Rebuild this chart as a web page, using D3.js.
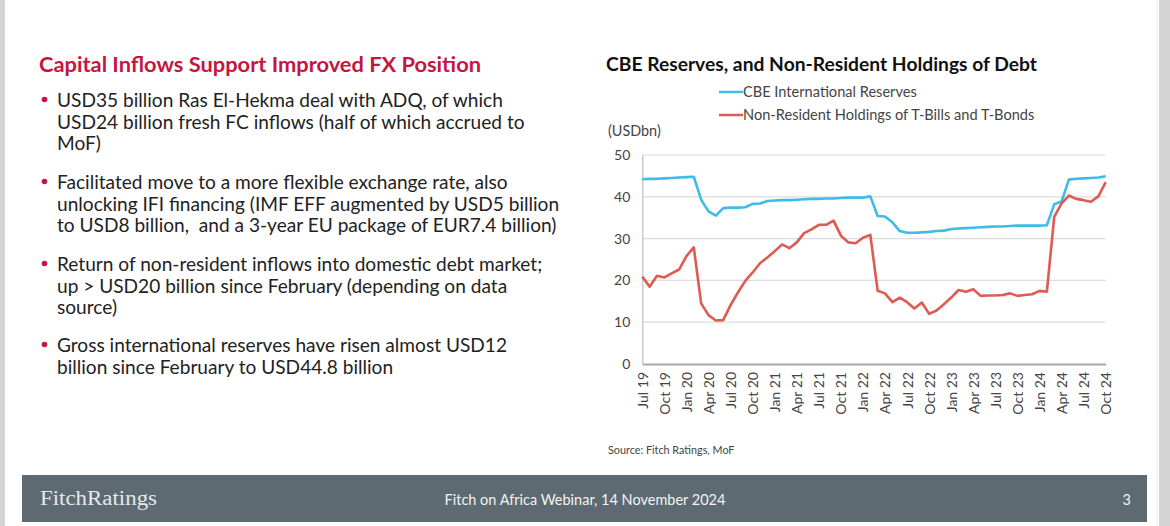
<!DOCTYPE html>
<html>
<head>
<meta charset="utf-8">
<script src="https://cdn.jsdelivr.net/npm/d3@7"></script>
<style>
  html, body { margin: 0; padding: 0; background: #d4d4d4; }
  svg { display: block; }
</style>
</head>
<body>
<svg id="c" width="1170" height="526"></svg>
<script>
// ---------- DATA ----------
// monthly observations, Jul 2019 .. Oct 2024
const startMonth = "2019-07";
const reserves = [
  44.2, 44.3, 44.3, 44.4, 44.5, 44.6, 44.7, 44.8, 39.3, 36.5,
  35.5, 37.3, 37.4, 37.4, 37.5, 38.3, 38.4, 39.0, 39.1, 39.2,
  39.2, 39.3, 39.4, 39.5, 39.5, 39.6, 39.6, 39.7, 39.8, 39.8,
  39.8, 40.1, 35.4, 35.3, 33.9, 31.8, 31.4, 31.4, 31.5, 31.6,
  31.8, 31.9, 32.3, 32.4, 32.5, 32.6, 32.7, 32.8, 32.9, 32.9,
  33.0, 33.1, 33.1, 33.1, 33.1, 33.2, 38.2, 38.9, 44.1, 44.3,
  44.4, 44.5, 44.6, 44.9
];
const nonResident = [
  20.9, 18.5, 21.1, 20.7, 21.7, 22.6, 25.8, 27.9, 14.5, 11.7,
  10.4, 10.5, 14.1, 17.1, 19.9, 21.9, 24.1, 25.5, 27.0, 28.6,
  27.7, 29.1, 31.3, 32.2, 33.3, 33.3, 34.3, 30.7, 29.1, 28.9,
  30.2, 30.9, 17.5, 16.9, 14.8, 15.9, 14.8, 13.3, 14.7, 12.0,
  12.8, 14.3, 15.9, 17.7, 17.3, 17.9, 16.3, 16.4, 16.4, 16.5,
  16.9, 16.3, 16.5, 16.7, 17.5, 17.3, 35.2, 38.4, 40.3, 39.5,
  39.2, 38.8, 40.1, 43.5
];
const tickLabels = ["Jul 19","Oct 19","Jan 20","Apr 20","Jul 20","Oct 20","Jan 21","Apr 21",
  "Jul 21","Oct 21","Jan 22","Apr 22","Jul 22","Oct 22","Jan 23","Apr 23","Jul 23","Oct 23",
  "Jan 24","Apr 24","Jul 24","Oct 24"];
const yTicks = [0, 10, 20, 30, 40, 50];
const seriesNames = ["CBE International Reserves", "Non-Resident Holdings of T-Bills and T-Bonds"];

const slideTitle = "Capital Inflows Support Improved FX Position";
const bullets = [
  ["USD35 billion Ras El-Hekma deal with ADQ, of which",
   "USD24 billion fresh FC inflows (half of which accrued to",
   "MoF)"],
  ["Facilitated move to a more flexible exchange rate, also",
   "unlocking IFI financing (IMF EFF augmented by USD5 billion",
   "to USD8 billion,  and a 3-year EU package of EUR7.4 billion)"],
  ["Return of non-resident inflows into domestic debt market;",
   "up > USD20 billion since February (depending on data",
   "source)"],
  ["Gross international reserves have risen almost USD12",
   "billion since February to USD44.8 billion"]
];

// ---------- DRAW ----------
const svg = d3.select("#c");
const FONT = "Lato, 'Open Sans', sans-serif";

// slide background
svg.append("rect").attr("x", 5).attr("y", 0).attr("width", 1154).attr("height", 526).attr("fill", "#ffffff");
svg.append("line").attr("x1", 1157).attr("x2", 1157).attr("y1", 0).attr("y2", 526)
  .attr("stroke", "#e6e6e6").attr("stroke-width", 1);

// left text
svg.append("text").attr("x", 39).attr("y", 71.5).text(slideTitle)
  .attr("font-family", FONT).attr("font-size", 21.7).attr("font-weight", 700)
  .attr("fill", "#c4163f").attr("textLength", 442).attr("lengthAdjust", "spacingAndGlyphs");

const bulletTops = [100, 182, 264, 345];
const lineH = 21.7;
bullets.forEach((lines, bi) => {
  const y0 = bulletTops[bi];
  svg.append("circle").attr("cx", 44.5).attr("cy", y0 - 0.5).attr("r", 2.8).attr("fill", "#c4163f");
  lines.forEach((ln, li) => {
    svg.append("text").attr("x", 57).attr("y", y0 + li * lineH + 6.8).text(ln).attr("xml:space", "preserve")
      .style("white-space", "pre")
      .attr("font-family", FONT).attr("font-size", 19.1).attr("fill", "#222222");
  });
});

// chart
const m = { left: 642.3, right: 1105.7, top: 155, bottom: 364 };
const n = reserves.length;
const x = d3.scaleLinear().domain([0, n - 1]).range([m.left, m.right]);
const y = d3.scaleLinear().domain([0, 50]).range([m.bottom, m.top]);

svg.append("text").attr("x", 606).attr("y", 70.5).text("CBE Reserves, and Non-Resident Holdings of Debt")
  .attr("font-family", FONT).attr("font-size", 19.3).attr("font-weight", 700).attr("fill", "#111")
  .attr("textLength", 431).attr("lengthAdjust", "spacingAndGlyphs");

const colors = ["#3bbde8", "#df5a50"];
const legendY = [92, 115];
seriesNames.forEach((s, i) => {
  svg.append("line").attr("x1", 719).attr("x2", 743).attr("y1", legendY[i]).attr("y2", legendY[i])
    .attr("stroke", colors[i]).attr("stroke-width", 2.5);
  svg.append("text").attr("x", 743).attr("y", legendY[i] + 5).text(s)
    .attr("font-family", FONT).attr("font-size", 14.6).attr("fill", "#444");
});

svg.append("text").attr("x", 608).attr("y", 135.5).text("(USDbn)")
  .attr("font-family", FONT).attr("font-size", 14.4).attr("fill", "#444");

// gridlines
svg.append("g").selectAll("line").data(yTicks.filter(d => d > 0)).join("line")
  .attr("x1", m.left).attr("x2", m.right).attr("y1", d => y(d)).attr("y2", d => y(d))
  .attr("stroke", "#dcdcdc").attr("stroke-width", 1.2);

// y axis
const yAxis = svg.append("g").attr("transform", `translate(${m.left},0)`)
  .call(d3.axisLeft(y).tickValues(yTicks).tickSize(0).tickPadding(12));
yAxis.select(".domain").attr("stroke", "#bdbdbd").attr("stroke-width", 1.2);
yAxis.selectAll("text").attr("font-family", FONT).attr("font-size", 14).attr("fill", "#444");

// x axis
const tickIdx = tickLabels.map((_, i) => i * 3);
const xAxis = svg.append("g").attr("transform", `translate(0,${m.bottom})`)
  .call(d3.axisBottom(x).tickValues(tickIdx).tickFormat((d, i) => tickLabels[i]).tickSize(0).tickPadding(8));
xAxis.select(".domain").attr("stroke", "#a8a8a8").attr("stroke-width", 2);
xAxis.selectAll("text")
  .attr("font-family", FONT).attr("font-size", 14).attr("fill", "#444")
  .attr("transform", "rotate(-90)").attr("text-anchor", "end")
  .attr("x", -8).attr("y", 0).attr("dy", "0.35em");

// lines
const line = d3.line().x((d, i) => x(i)).y(d => y(d));
[reserves, nonResident].forEach((s, i) => {
  svg.append("path").datum(s).attr("d", line).attr("fill", "none")
    .attr("stroke", colors[i]).attr("stroke-width", 2.6).attr("stroke-linejoin", "round");
});

svg.append("text").attr("x", 608).attr("y", 454).text("Source: Fitch Ratings, MoF")
  .attr("font-family", FONT).attr("font-size", 10.8).attr("fill", "#444");

// footer
svg.append("rect").attr("x", 22).attr("y", 475).attr("width", 1125).attr("height", 47).attr("fill", "#5e6a71");
svg.append("text").attr("x", 40).attr("y", 505).text("FitchRatings")
  .attr("font-family", "'Liberation Serif', 'DejaVu Serif', serif").attr("font-size", 20)
  .attr("fill", "#e4e8ea").attr("textLength", 117).attr("lengthAdjust", "spacingAndGlyphs");
svg.append("text").attr("x", 585).attr("y", 505).text("Fitch on Africa Webinar, 14 November 2024")
  .attr("font-family", FONT).attr("font-size", 14.5).attr("fill", "#f2f2f2").attr("text-anchor", "middle");
svg.append("text").attr("x", 1131).attr("y", 505).text("3")
  .attr("font-family", FONT).attr("font-size", 14.5).attr("fill", "#f2f2f2").attr("text-anchor", "end");
</script>
</body>
</html>
